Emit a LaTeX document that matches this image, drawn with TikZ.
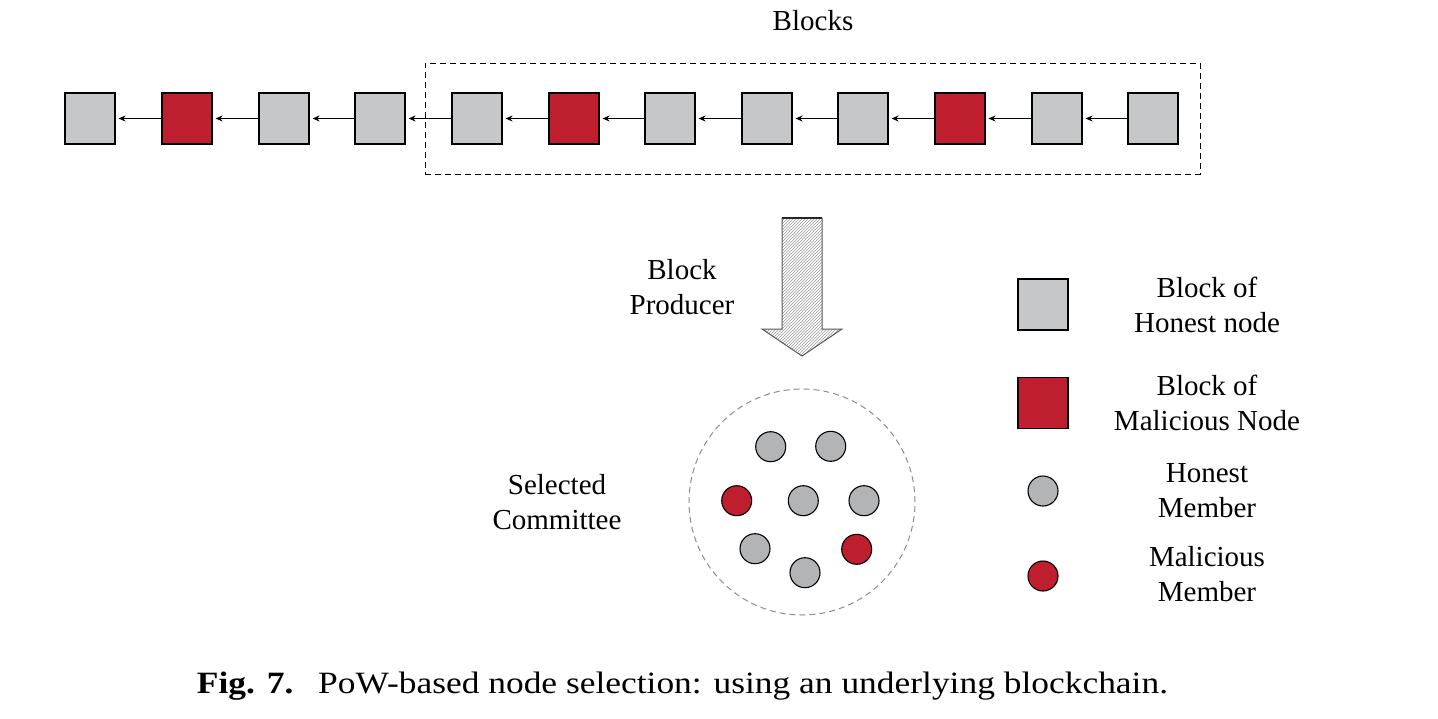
\documentclass[tikz,border=0pt]{standalone}
\usepackage{fontspec}
\setmainfont{Liberation Serif}
\usetikzlibrary{arrows.meta,patterns}
\definecolor{blockgray}{HTML}{C6C7C9}
\definecolor{membergray}{HTML}{B3B4B6}
\definecolor{malred}{HTML}{BE1E2D}
\tikzset{
  blk/.style={draw=black, line width=1.2pt, minimum width=50pt, minimum height=51pt, inner sep=0pt},
  honestblk/.style={blk, fill=blockgray},
  malblk/.style={blk, fill=malred},
  mem/.style={circle, draw=black, line width=1.1pt, minimum size=30pt, inner sep=0pt},
  honestmem/.style={mem, fill=membergray},
  malmem/.style={mem, fill=malred},
  link/.style={line width=1pt, -{Stealth[length=7pt,width=6pt]}, shorten >=3pt},
  lbl/.style={anchor=base, align=center, inner sep=0pt, font=\fontsize{29}{35}\selectfont},
}
\begin{document}
\begin{tikzpicture}[x=1pt,y=-1pt]
\useasboundingbox (0,0) rectangle (1438,718);
% chain
\foreach \i/\x/\s in {1/90/honestblk,2/187/malblk,3/284/honestblk,4/380/honestblk,5/477/honestblk,6/574/malblk,7/670/honestblk,8/767/honestblk,9/863/honestblk,10/960/malblk,11/1057/honestblk,12/1153/honestblk}{
  \node[\s] (b\i) at (\x,118.5) {};
}
\foreach \i [evaluate=\i as \j using int(\i+1)] in {1,...,11}{
  \draw[link] (b\j.west) -- (b\i.east);
}
\node[draw=black, dashed, dash pattern=on 6pt off 4pt, line width=1pt, minimum width=775pt, minimum height=111pt, inner sep=0pt] (sel) at (812.5,118.5) {};
\node[lbl] (blockslbl) at (813,30) {Blocks};
% big arrow
\coordinate (atop) at (802,218);
\coordinate (atip) at (802,356);
\filldraw[draw=black!65, line width=1pt, pattern=north east lines, pattern color=black!40]
  (782,218) -- (782,329) -- (762,329) -- (atip) -- (842,329) -- (822,329) -- (822,218) -- cycle;
\draw[line width=2.2pt, black!85] (782,218) -- (822,218);
\node[lbl] (prod) at (682,314) {Block\\Producer};
% committee
\node[circle, draw=black!45, dashed, dash pattern=on 6pt off 4pt, line width=1pt, minimum size=226pt, inner sep=0pt] (comm) at (802,502) {};
\node[honestmem] (m1) at (770.7,446.7) {};
\node[honestmem] (m2) at (830.7,446.3) {};
\node[malmem] (m3) at (736.7,500.7) {};
\node[honestmem] (m4) at (803.3,500.7) {};
\node[honestmem] (m5) at (864,500.7) {};
\node[honestmem] (m6) at (755,548.7) {};
\node[malmem] (m7) at (856.7,549.3) {};
\node[honestmem] (m8) at (805,572.7) {};
\node[lbl] (comlbl) at (557,529) {Selected\\Committee};
% legend
\node[honestblk] (lg1) at (1043,304.5) {};
\node[malblk] (lg2) at (1043,403) {};
\node[honestmem] (lg3) at (1043,491) {};
\node[malmem] (lg4) at (1043,576) {};
\node[lbl] (lt1) at (1207,332) {Block of\\Honest node};
\node[lbl] (lt2) at (1207,430) {Block of\\Malicious Node};
\node[lbl] (lt3) at (1207,517) {Honest\\Member};
\node[lbl] (lt4) at (1207,601) {Malicious\\Member};
% caption
\node[anchor=base, inner sep=0pt] (cap) at (682.5,693) {\resizebox{971pt}{\height}{\fontsize{31}{31}\selectfont\textbf{Fig. 7.}\hspace{0.7em}PoW-based node selection: using an underlying blockchain.}};
\end{tikzpicture}
\end{document}
